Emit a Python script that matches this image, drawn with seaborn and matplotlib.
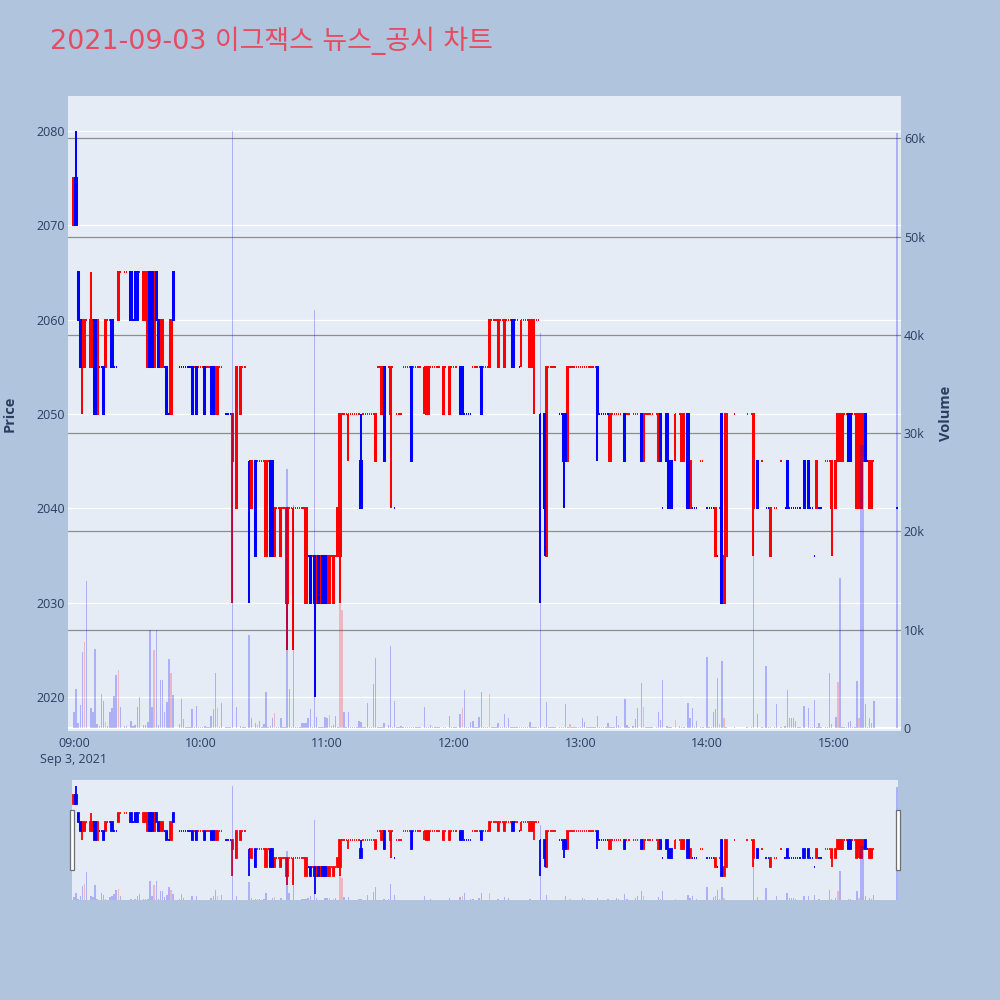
import numpy as np
import pandas as pd
import matplotlib
matplotlib.use("Agg")
import matplotlib.pyplot as plt
import matplotlib.patches as mpatches
import seaborn as sns

TITLE = "2021-09-03 이그잭스 뉴스_공시 차트"

# ---- candles whose open/high/low/close differ (minute after 09:00) ----
bar_minute = [0, 1, 2, 3, 4, 5, 8, 9, 10, 11,
              14, 15, 18, 21, 27, 29, 30, 33, 34, 35,
              36, 37, 38, 39, 40, 41, 42, 44, 46, 47,
              56, 58, 62, 65, 66, 67, 68, 75, 77, 79,
              83, 84, 86, 91, 93, 94, 95, 98, 101, 104,
              110, 112, 114, 115, 116, 117, 118, 119, 120, 121,
              123, 125, 126, 130, 136, 143, 146, 147, 150, 160,
              166, 167, 168, 175, 178, 183, 184, 193, 197, 201,
              204, 208, 212, 216, 217, 218, 221, 223, 224, 232,
              233, 234, 248, 254, 261, 269, 270, 277, 278, 281,
              282, 283, 285, 288, 289, 291, 292, 304, 307, 308,
              309, 322, 324, 330, 338, 346, 348, 352, 359, 361,
              362, 363, 364, 367, 368, 371, 372, 373, 374, 375,
              377, 378]
bar_open = [2070, 2075, 2065, 2060, 2055, 2055, 2055, 2055, 2060, 2050,
            2055, 2055, 2060, 2060, 2065, 2065, 2065, 2060, 2060, 2055,
            2065, 2065, 2055, 2065, 2060, 2055, 2055, 2055, 2050, 2065,
            2055, 2055, 2055, 2055, 2055, 2050, 2050, 2045, 2040, 2050,
            2045, 2040, 2045, 2035, 2045, 2045, 2035, 2035, 2030, 2040,
            2030, 2035, 2035, 2030, 2035, 2030, 2035, 2035, 2030, 2030,
            2030, 2035, 2035, 2050, 2045, 2045, 2050, 2055, 2050, 2055,
            2055, 2050, 2050, 2050, 2050, 2055, 2055, 2055, 2055, 2055,
            2055, 2060, 2060, 2055, 2055, 2060, 2050, 2050, 2035, 2050,
            2050, 2045, 2055, 2045, 2050, 2050, 2045, 2045, 2050, 2050,
            2045, 2045, 2050, 2045, 2045, 2050, 2040, 2035, 2050, 2030,
            2035, 2040, 2045, 2035, 2045, 2045, 2045, 2040, 2040, 2040,
            2045, 2045, 2045, 2050, 2050, 2040, 2045, 2040, 2045, 2050,
            2040, 2040]
bar_high = [2075, 2080, 2065, 2060, 2060, 2060, 2065, 2060, 2060, 2060,
            2055, 2060, 2060, 2065, 2065, 2065, 2065, 2065, 2065, 2065,
            2065, 2065, 2065, 2065, 2060, 2060, 2060, 2055, 2060, 2065,
            2055, 2055, 2055, 2055, 2055, 2055, 2055, 2050, 2055, 2055,
            2045, 2045, 2045, 2045, 2045, 2045, 2040, 2040, 2040, 2040,
            2040, 2035, 2035, 2035, 2035, 2035, 2035, 2035, 2035, 2035,
            2035, 2040, 2050, 2050, 2050, 2050, 2055, 2055, 2055, 2055,
            2055, 2055, 2055, 2055, 2055, 2055, 2055, 2055, 2060, 2060,
            2060, 2060, 2060, 2060, 2060, 2060, 2050, 2050, 2055, 2050,
            2050, 2055, 2055, 2050, 2050, 2050, 2050, 2050, 2050, 2050,
            2045, 2045, 2050, 2050, 2050, 2050, 2045, 2040, 2050, 2035,
            2050, 2050, 2045, 2040, 2045, 2045, 2045, 2045, 2045, 2045,
            2050, 2050, 2050, 2050, 2050, 2050, 2050, 2050, 2050, 2050,
            2045, 2045]
bar_low = [2070, 2070, 2060, 2055, 2050, 2055, 2055, 2055, 2050, 2050,
           2050, 2055, 2055, 2060, 2060, 2060, 2060, 2060, 2060, 2055,
           2055, 2055, 2055, 2060, 2055, 2055, 2055, 2050, 2050, 2060,
           2050, 2050, 2050, 2050, 2050, 2050, 2050, 2030, 2040, 2050,
           2030, 2040, 2035, 2035, 2035, 2035, 2035, 2035, 2025, 2025,
           2030, 2030, 2020, 2030, 2030, 2030, 2030, 2030, 2030, 2030,
           2030, 2035, 2030, 2045, 2040, 2045, 2050, 2045, 2040, 2045,
           2050, 2050, 2050, 2050, 2050, 2050, 2050, 2050, 2055, 2055,
           2055, 2055, 2055, 2055, 2055, 2050, 2030, 2035, 2035, 2040,
           2045, 2045, 2045, 2045, 2045, 2045, 2045, 2045, 2045, 2045,
           2040, 2040, 2045, 2045, 2045, 2040, 2040, 2035, 2030, 2030,
           2035, 2035, 2040, 2035, 2040, 2040, 2040, 2040, 2035, 2040,
           2045, 2045, 2045, 2045, 2045, 2040, 2040, 2040, 2045, 2045,
           2040, 2040]
bar_close = [2075, 2070, 2060, 2055, 2060, 2060, 2060, 2060, 2050, 2060,
             2050, 2060, 2055, 2065, 2060, 2060, 2060, 2065, 2065, 2065,
             2055, 2055, 2065, 2060, 2055, 2060, 2060, 2050, 2060, 2060,
             2050, 2050, 2050, 2050, 2050, 2055, 2055, 2050, 2055, 2055,
             2045, 2045, 2035, 2045, 2035, 2035, 2040, 2040, 2040, 2040,
             2040, 2030, 2030, 2035, 2030, 2035, 2030, 2030, 2035, 2035,
             2035, 2040, 2050, 2050, 2040, 2050, 2055, 2045, 2055, 2045,
             2055, 2055, 2055, 2055, 2055, 2050, 2050, 2050, 2060, 2060,
             2060, 2055, 2060, 2060, 2060, 2060, 2050, 2040, 2055, 2045,
             2045, 2055, 2050, 2050, 2045, 2045, 2050, 2050, 2045, 2045,
             2040, 2040, 2050, 2050, 2050, 2040, 2045, 2040, 2030, 2035,
             2050, 2050, 2040, 2040, 2040, 2040, 2040, 2045, 2045, 2045,
             2050, 2050, 2050, 2045, 2045, 2050, 2050, 2050, 2050, 2045,
             2045, 2045]
bar_volume = [1600, 4000, 500, 2300, 7700, 8800, 2000, 1600, 8000, 400,
              2800, 600, 2000, 5900, 700, 300, 2100, 300, 300, 600,
              10000, 2100, 7900, 10000, 300, 4900, 4900, 2600, 5600, 3400,
              1900, 2200, 200, 1200, 1900, 5600, 2000, 60700, 2100, 200,
              9500, 1000, 500, 3700, 200, 1000, 1500, 1000, 26400, 22700,
              500, 1900, 42500, 1100, 100, 100, 100, 1100, 1000, 1300,
              300, 100, 23400, 1600, 600, 7100, 100, 500, 8300, 100,
              2100, 100, 100, 100, 1200, 1400, 2000, 3700, 3500, 500,
              1400, 100, 100, 600, 100, 100, 40200, 100, 2700, 100,
              2400, 100, 1200, 100, 3000, 4600, 2100, 1600, 800, 200,
              100, 100, 800, 100, 100, 2500, 1000, 1900, 6800, 1000,
              100, 21200, 1400, 100, 3900, 2200, 2000, 100, 400, 1100,
              4700, 15300, 100, 600, 700, 4800, 1000, 28800, 28800, 2400,
              1000, 500]

# ---- minutes where open = high = low = close ----
flat_minute = [6, 12, 13, 16, 17, 19, 20, 22, 24, 25,
               28, 31, 43, 45, 50, 51, 52, 53, 54, 55,
               57, 59, 60, 61, 63, 64, 69, 70, 72, 73,
               74, 80, 81, 87, 88, 89, 90, 92, 96, 97,
               99, 100, 102, 103, 105, 106, 107, 108, 109, 111,
               113, 122, 124, 127, 128, 129, 131, 132, 133, 134,
               135, 137, 138, 139, 140, 141, 142, 144, 145, 149,
               151, 152, 153, 154, 155, 156, 157, 158, 159, 161,
               162, 163, 164, 169, 170, 171, 172, 173, 176, 179,
               180, 181, 185, 186, 187, 188, 189, 190, 191, 192,
               194, 195, 196, 198, 199, 200, 202, 203, 205, 206,
               207, 209, 210, 211, 213, 214, 215, 219, 220, 225,
               226, 227, 228, 230, 231, 235, 236, 237, 238, 239,
               240, 241, 242, 243, 244, 245, 246, 247, 249, 250,
               251, 252, 253, 255, 256, 257, 258, 259, 262, 263,
               265, 266, 267, 271, 272, 273, 274, 276, 279, 287,
               293, 294, 295, 297, 298, 300, 301, 302, 303, 305,
               306, 313, 319, 321, 326, 328, 329, 332, 333, 335,
               337, 339, 340, 341, 342, 343, 344, 349, 350, 351,
               353, 354, 356, 357, 358, 365, 366, 369, 370, 376,
               379, 390]
flat_price = [2060, 2055, 2055, 2060, 2060, 2055, 2055, 2065, 2065, 2065,
              2060, 2065, 2055, 2050, 2055, 2055, 2055, 2055, 2055, 2055,
              2055, 2055, 2055, 2055, 2055, 2055, 2055, 2055, 2050, 2050,
              2050, 2055, 2055, 2045, 2045, 2045, 2045, 2045, 2040, 2040,
              2040, 2040, 2040, 2040, 2040, 2040, 2040, 2040, 2040, 2035,
              2035, 2035, 2035, 2050, 2050, 2050, 2050, 2050, 2050, 2050,
              2050, 2050, 2050, 2050, 2050, 2050, 2050, 2055, 2055, 2055,
              2055, 2040, 2050, 2050, 2050, 2055, 2055, 2055, 2055, 2055,
              2055, 2055, 2055, 2055, 2055, 2055, 2055, 2055, 2055, 2055,
              2055, 2055, 2050, 2050, 2050, 2050, 2055, 2055, 2055, 2055,
              2055, 2055, 2055, 2060, 2060, 2060, 2060, 2060, 2060, 2060,
              2060, 2060, 2060, 2055, 2060, 2060, 2060, 2060, 2060, 2055,
              2055, 2055, 2055, 2050, 2050, 2055, 2055, 2055, 2055, 2055,
              2055, 2055, 2055, 2055, 2055, 2055, 2055, 2055, 2050, 2050,
              2050, 2050, 2050, 2050, 2050, 2050, 2050, 2050, 2050, 2050,
              2050, 2050, 2050, 2050, 2050, 2050, 2050, 2050, 2040, 2050,
              2040, 2040, 2040, 2045, 2045, 2040, 2040, 2040, 2040, 2035,
              2040, 2050, 2050, 2050, 2045, 2040, 2040, 2040, 2040, 2045,
              2040, 2040, 2040, 2040, 2040, 2040, 2040, 2040, 2040, 2035,
              2040, 2040, 2045, 2045, 2045, 2050, 2050, 2050, 2050, 2045,
              2045, 2040]
flat_volume = [15000, 200, 3500, 200, 1600, 3300, 5400, 2100, 200, 200,
               200, 3200, 1600, 7000, 400, 3000, 900, 100, 100, 100,
               100, 100, 100, 100, 100, 100, 100, 2500, 100, 100,
               100, 100, 100, 300, 700, 100, 400, 100, 100, 100,
               100, 100, 4000, 100, 100, 100, 100, 500, 500, 1000,
               100, 200, 1200, 12000, 1600, 100, 100, 100, 100, 100,
               700, 100, 100, 2500, 100, 100, 4500, 100, 100, 300,
               100, 2800, 100, 100, 200, 100, 100, 100, 100, 100,
               100, 100, 100, 300, 100, 100, 100, 100, 100, 100,
               100, 100, 3900, 100, 100, 600, 700, 100, 100, 1100,
               100, 100, 100, 100, 100, 100, 100, 100, 100, 1000,
               100, 100, 100, 100, 100, 100, 100, 100, 100, 100,
               100, 100, 100, 100, 100, 400, 100, 100, 100, 100,
               100, 1000, 600, 100, 100, 100, 100, 100, 100, 100,
               100, 100, 500, 100, 100, 1200, 300, 100, 300, 100,
               200, 900, 2000, 100, 100, 100, 100, 100, 4900, 200,
               2000, 100, 700, 100, 100, 7200, 100, 100, 1600, 5100,
               400, 100, 100, 100, 100, 6300, 100, 100, 2400, 100,
               200, 1000, 1000, 1000, 700, 100, 100, 100, 100, 2900,
               500, 100, 100, 100, 5600, 100, 100, 100, 100, 100,
               2800, 60500]

# minutes whose volume bar is drawn in the pink colour
pink_volume_minutes = [5, 15, 21, 38, 46, 68, 87, 95, 121, 126,
                       127, 184, 197, 235, 270, 285, 306, 308, 362, 372]

x_tick_minutes = [0, 60, 120, 180, 240, 300, 360]
x_tick_labels = ["09:00\nSep 3, 2021", "10:00", "11:00", "12:00",
                 "13:00", "14:00", "15:00"]
price_ticks = [2020, 2030, 2040, 2050, 2060, 2070, 2080]
volume_ticks = [0, 10000, 20000, 30000, 40000, 50000, 60000]
volume_tick_labels = ["0", "10k", "20k", "30k", "40k", "50k", "60k"]

# ---------------------------------------------------------------------
bars = pd.DataFrame(dict(minute=bar_minute, open=bar_open, high=bar_high,
                         low=bar_low, close=bar_close, volume=bar_volume))
flats = pd.DataFrame(dict(minute=flat_minute, open=flat_price, high=flat_price,
                          low=flat_price, close=flat_price, volume=flat_volume))
df = pd.concat([bars, flats]).sort_values("minute").reset_index(drop=True)

dirs = []
prev_c, prev_d = None, 1
for o, c in zip(df["open"], df["close"]):
    if c > o:
        d = 1
    elif c < o:
        d = -1
    elif prev_c is None or c == prev_c:
        d = prev_d
    else:
        d = 1 if c > prev_c else -1
    dirs.append(d)
    prev_c, prev_d = c, d
df["dir"] = dirs

RED = "#FF0000"
BLUE = "#0000FF"
VOL_BLUE = (0.0, 0.0, 1.0, 0.25)
VOL_PINK = (1.0, 0.0, 0.0, 0.22)
BG = "#E5ECF6"
FIG_BG = "#B0C4DE"
TICK_COLOR = "#2a3f5f"

sns.set_theme(style="darkgrid", rc={"axes.facecolor": BG,
                                    "figure.facecolor": FIG_BG,
                                    "grid.color": "white"})
plt.rcParams["font.family"] = ["Open Sans", "Noto Sans CJK KR", "DejaVu Sans"]

LW = 1.45  # ~2 px


def draw_candles(ax, data, lw=LW):
    for d, col in [(1, RED), (-1, BLUE)]:
        sub = data[data["dir"] == d]
        wick = sub[sub["high"] != sub["low"]]
        ax.vlines(wick["minute"], wick["low"], wick["high"], colors=col,
                  linewidth=lw, capstyle="butt", zorder=3)
        body = sub[sub["open"] != sub["close"]]
        lo = np.minimum(body["open"], body["close"])
        ax.bar(body["minute"], (body["open"] - body["close"]).abs(), bottom=lo,
               width=0.6, color=col, edgecolor=col, linewidth=lw, zorder=3)
        flat = sub[sub["open"] == sub["close"]]
        ax.hlines(flat["close"], flat["minute"] - 0.3, flat["minute"] + 0.3,
                  colors=col, linewidth=lw, capstyle="butt", zorder=3)


def draw_volume(ax, data):
    cols = [VOL_PINK if m in pink_volume_minutes else VOL_BLUE
            for m in data["minute"]]
    ax.bar(data["minute"], data["volume"], width=0.7, color=cols,
           linewidth=0, zorder=3)


fig = plt.figure(figsize=(10, 10), dpi=100)
fig.patch.set_facecolor(FIG_BG)

pos = [0.068, 0.269, 0.833, 0.635]
XLIM = (-2.84, 391.9)

# volume grid layer (bottom)
ax_vg = fig.add_axes(pos, zorder=0)
ax_vg.set_facecolor(BG)
ax_vg.set_xlim(*XLIM)
ax_vg.set_ylim(-300, 64300)
ax_vg.grid(False)
for v in volume_ticks[1:]:
    ax_vg.axhline(v, color="#8e8e8e", linewidth=0.9, zorder=1)
ax_vg.axhline(0, color="white", linewidth=1.6, zorder=1)
ax_vg.yaxis.tick_right()
ax_vg.set_yticks(volume_ticks)
ax_vg.set_yticklabels(volume_tick_labels)
ax_vg.tick_params(axis="y", length=0, pad=2, labelsize=9, colors=TICK_COLOR)
ax_vg.tick_params(axis="x", bottom=False, labelbottom=False)
for s in ax_vg.spines.values():
    s.set_visible(False)

# price layer
ax = fig.add_axes(pos, zorder=1)
ax.set_facecolor("none")
ax.set_xlim(*XLIM)
ax.set_ylim(2016.4, 2083.7)
ax.set_yticks(price_ticks)
ax.set_xticks(x_tick_minutes)
ax.set_xticklabels(x_tick_labels)
ax.grid(False)
ax.yaxis.grid(True, color="white", linewidth=0.9, zorder=0)
ax.tick_params(axis="y", length=0, pad=2, labelsize=9, colors=TICK_COLOR)
ax.tick_params(axis="x", length=0, pad=4, labelsize=9, colors=TICK_COLOR)
for lab in ax.get_xticklabels():
    lab.set_linespacing(1.35)
    lab.set_verticalalignment("top")
for s in ax.spines.values():
    s.set_visible(False)
draw_candles(ax, df)

# volume bars layer (top, translucent)
ax_v = fig.add_axes(pos, zorder=2)
ax_v.set_facecolor("none")
ax_v.set_xlim(*XLIM)
ax_v.set_ylim(-300, 64300)
ax_v.grid(False)
ax_v.set_xticks([])
ax_v.set_yticks([])
for s in ax_v.spines.values():
    s.set_visible(False)
draw_volume(ax_v, df)

# axis titles
fig.text(0.010, 0.5865, "Price", rotation=90, ha="center", va="center",
         fontsize=10.5, fontweight="bold", color=TICK_COLOR)
fig.text(0.946, 0.5865, "Volume", rotation=90, ha="center", va="center",
         fontsize=10.5, fontweight="bold", color=TICK_COLOR)

# title
fig.text(0.05, 0.959, TITLE, ha="left", va="center", fontsize=19.4,
         color="#E84A5F", family=["DejaVu Sans", "Noto Sans CJK KR"])

# range slider
spos = [0.072, 0.100, 0.826, 0.120]
SXLIM = (-0.95, 390.5)
ax_s = fig.add_axes(spos, zorder=1)
ax_s.set_facecolor(BG)
ax_s.set_xlim(*SXLIM)
ax_s.set_ylim(2016.5, 2083.3)
ax_s.grid(False)
ax_s.set_xticks([])
ax_s.set_yticks([])
for s in ax_s.spines.values():
    s.set_visible(False)
draw_candles(ax_s, df, lw=1.3)

ax_sv = fig.add_axes(spos, zorder=2)
ax_sv.set_facecolor("none")
ax_sv.set_xlim(*SXLIM)
ax_sv.set_ylim(0, 64000)
ax_sv.grid(False)
ax_sv.set_xticks([])
ax_sv.set_yticks([])
for s in ax_sv.spines.values():
    s.set_visible(False)
draw_volume(ax_sv, df)

for hx in (0.0695, 0.8955):
    fig.add_artist(mpatches.Rectangle((hx, 0.130), 0.0045, 0.060,
                                      transform=fig.transFigure,
                                      facecolor="white", edgecolor="#6f6f6f",
                                      linewidth=0.9, zorder=5))

fig.savefig("out.png", dpi=100, facecolor=FIG_BG)
